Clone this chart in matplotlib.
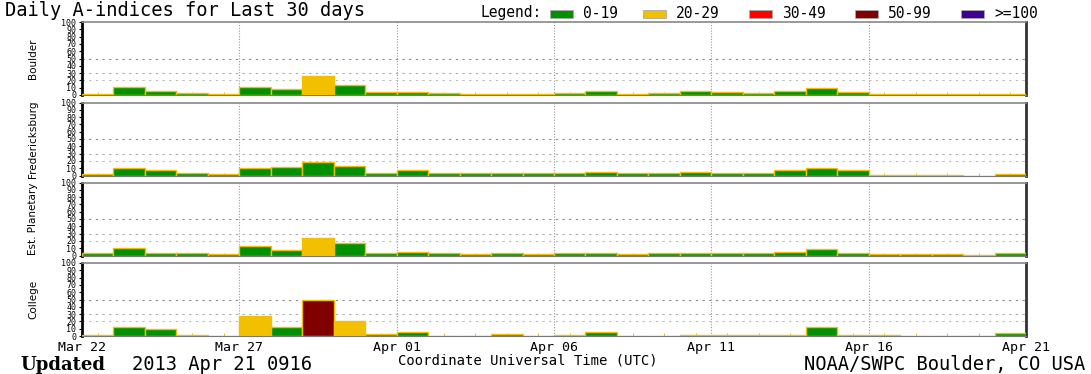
import numpy as np
import matplotlib.pyplot as plt
from matplotlib.patches import Rectangle

# daily A-index values, Mar 22 .. Apr 20
stations = ["Boulder", "Fredericksburg", "Est. Planetary", "College"]
boulder = [2, 11, 6, 3, 2, 11, 8, 26, 14, 4, 4, 3, 2, 2, 2, 3, 5, 1, 3, 6, 4, 3, 5, 10, 4, 1, 1, 1, 1, 2]
fredericksburg = [2, 10, 7, 3, 2, 10, 11, 19, 13, 3, 7, 4, 3, 3, 3, 3, 5, 3, 3, 5, 3, 3, 7, 10, 7, 1, 1, 1, 0, 2]
planetary = [3, 10, 4, 3, 2, 13, 8, 24, 17, 3, 5, 3, 2, 3, 2, 4, 4, 2, 3, 4, 4, 4, 5, 9, 4, 2, 2, 2, 1, 3]
college = [1, 13, 10, 1, 0, 28, 13, 50, 20, 3, 6, 0, 0, 3, 0, 1, 5, 0, 0, 1, 2, 1, 2, 12, 1, 1, 0, 0, 0, 4]
series = [boulder, fredericksburg, planetary, college]

tick_days = [0, 5, 10, 15, 20, 25, 30]
tick_labels = ["Mar 22", "Mar 27", "Apr 01", "Apr 06", "Apr 11", "Apr 16", "Apr 21"]

legend_labels = ["0-19", "20-29", "30-49", "50-99", ">=100"]
legend_colors = ["#009000", "#f2c000", "#ff0000", "#800000", "#400090"]


def level_color(v):
    if v < 20:
        return legend_colors[0]
    if v < 30:
        return legend_colors[1]
    if v < 50:
        return legend_colors[2]
    if v < 100:
        return legend_colors[3]
    return legend_colors[4]


W, H = 1091, 374
fig = plt.figure(figsize=(W / 100, H / 100), dpi=100)
mono = "DejaVu Sans Mono"

tops = [22, 102.5, 182.5, 263]
ph = 73
for k, (name, vals) in enumerate(zip(stations, series)):
    ax = fig.add_axes([82 / W, 1 - (tops[k] + ph) / H, 944 / W, ph / H])
    x = np.arange(len(vals))
    ax.bar(x, vals, width=1, align="edge", color=[level_color(v) for v in vals],
           edgecolor="#f0c000", linewidth=1, zorder=3)
    ax.set_xlim(0, 30)
    ax.set_ylim(0, 100)

    # grid
    for d in tick_days[1:-1]:
        ax.axvline(d, color="#999999", lw=0.8, ls=(0, (1, 1.5)), zorder=1)
    for lvl, c in [(20, "#bbbbbb"), (30, "#aaaaaa"), (50, "#888888")]:
        ax.axhline(lvl, color=c, lw=0.8, ls=(0, (2, 4)), zorder=1)

    ax.set_yticks(range(0, 101, 10))
    ax.set_yticklabels([str(v) for v in range(0, 101, 10)], fontsize=6, family=mono)
    ax.tick_params(axis="y", length=2, pad=2, width=0.8)
    ax.set_xticks(tick_days)
    ax.set_xticks(x + 0.5, minor=True)
    ax.tick_params(axis="x", which="major", length=0, pad=3.5)
    ax.tick_params(axis="x", which="minor", direction="in", length=2, color="#e0b000")
    if k == 3:
        ax.set_xticklabels(tick_labels, fontsize=9.5, family=mono)
    else:
        ax.set_xticklabels([])

    ax.spines["left"].set_linewidth(2)
    ax.spines["left"].set_color("black")
    ax.spines["right"].set_linewidth(2)
    ax.spines["right"].set_color("#333333")
    ax.spines["top"].set_linestyle((0, (4, 1)))
    ax.spines["top"].set_color("#888888")
    ax.spines["top"].set_linewidth(1.2)
    ax.spines["bottom"].set_color("#777777")

    fig.text(33 / W, 1 - (tops[k] + ph / 2) / H, name, rotation=90,
             ha="center", va="center", fontsize=7.5)

# title and legend
fig.text(5 / W, 1 - 10 / H, "Daily A-indices for Last 30 days", fontsize=13.5,
         family=mono, ha="left", va="center")
fig.text(480 / W, 1 - 13 / H, "Legend:", fontsize=10.5, family=mono, ha="left", va="center")
box_x = [550, 643, 749, 855, 961]
for bx, lab, c in zip(box_x, legend_labels, legend_colors):
    fig.patches.append(Rectangle((bx / W, 1 - 18 / H), 23 / W, 8 / H, transform=fig.transFigure,
                                 facecolor=c, edgecolor="#aaaaaa", lw=0.6))
    fig.text((bx + 33) / W, 1 - 13 / H, lab, fontsize=10.5, family=mono, ha="left", va="center")

fig.text(528 / W, 1 - 360 / H, "Coordinate Universal Time (UTC)", fontsize=10,
         family=mono, ha="center", va="center")
fig.text(20 / W, 1 - 370 / H, "Updated", fontsize=13, family="DejaVu Serif",
         weight="bold", ha="left", va="baseline")
fig.text(132 / W, 1 - 370 / H, "2013 Apr 21 0916", fontsize=13.5, family=mono,
         ha="left", va="baseline")
fig.text(1085 / W, 1 - 370 / H, "NOAA/SWPC Boulder, CO USA", fontsize=13.5, family=mono,
         ha="right", va="baseline")

fig.savefig("out.png", dpi=100)
